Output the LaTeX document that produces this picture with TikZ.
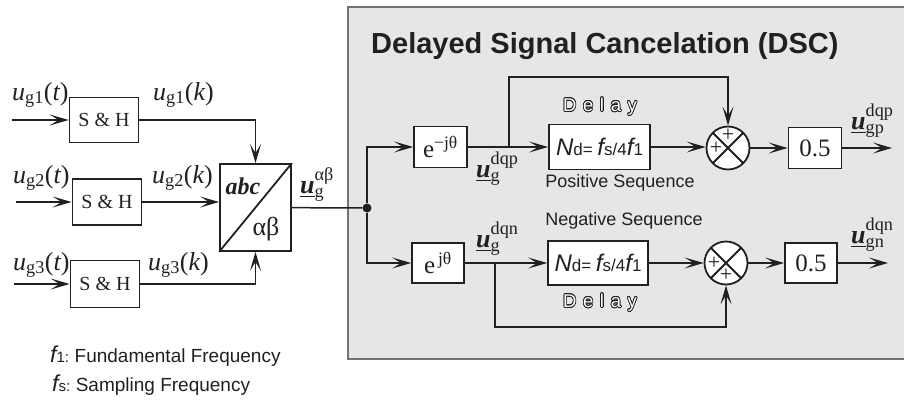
\documentclass[tikz,border=0pt]{standalone}
\usepackage{amsmath}
\usepackage{fontspec}
\setmainfont{Liberation Serif}
\setsansfont{Liberation Sans}
\usepackage{contour}
\usetikzlibrary{arrows.meta,positioning,calc}
\definecolor{InkD}  {RGB}{35, 31, 32}
\definecolor{PanelG}{RGB}{230,230,230}
\definecolor{EdgeG} {RGB}{115,115,115}
\newfontfamily\spacedsans[LetterSpace=36]{Liberation Sans}
\contourlength{0.75pt}
\newcommand{\sz}[1]{\fontsize{#1}{#1}\selectfont}
% sampled input / output signals
\newcommand{\usig}[2]{$\text{\itshape u}_{\text{g#1}}\text{(\itshape #2\upshape)}$}
% space vectors
\newcommand{\uvec}[2]{$\underline{\text{\bfseries\itshape u}}_{\text{#1}}^{\text{#2}}$}
\newcommand{\ndelay}{{\sz{24}\itshape N}{\sz{17}d= }{\sz{24}\itshape f}{\sz{17}s/4}{\sz{24}\itshape f}{\sz{17}1}}
\newcommand{\delaytxt}{\contour{InkD}{\textcolor{white}{\spacedsans\sz{18.5}Delay}}}

\begin{document}
\begin{tikzpicture}[x=1pt,y=1pt,
    >={Stealth[length=19pt,width=11pt,inset=9pt]},
    blk/.style={draw=InkD,line width=1.8pt,fill=white,inner sep=0pt,text=InkD},
    sig/.style={draw=InkD,line width=1.5pt,->},
    wire/.style={draw=InkD,line width=1.5pt},
    sumnode/.style={circle,draw=InkD,line width=1.8pt,fill=white,minimum size=43pt,inner sep=0pt,
      path picture={\draw[InkD,line width=1.8pt]
        (path picture bounding box.north west) -- (path picture bounding box.south east)
        (path picture bounding box.north east) -- (path picture bounding box.south west);}},
    lab/.style={text=InkD,inner sep=0pt},
    plus/.style={text=InkD,inner sep=0pt,font=\sz{22}}]
  \useasboundingbox (0,0) rectangle (904,-399);

  % DSC panel
  \fill[PanelG] (348,-7) rectangle (904,-359);
  \draw[EdgeG,line width=1.2pt] (904,-7) -- (348,-7) -- (348,-359) -- (904,-359);
  \node[lab,anchor=base west,font=\sffamily\bfseries\sz{29}] (title) at (371,-53)
    {Delayed Signal Cancelation (DSC)};

  % sample & hold stage
  \node[blk,minimum width=69pt,minimum height=45pt,font=\sz{20}] (sh1) at (104,-120) {S \& H};
  \node[blk,minimum width=69pt,minimum height=46pt,font=\sz{20}] (sh2) at (107,-202) {S \& H};
  \node[blk,minimum width=69pt,minimum height=47pt,font=\sz{20}] (sh3) at (105,-284) {S \& H};
  \coordinate (in1) at (12,-120);
  \coordinate (in2) at (16,-202);
  \coordinate (in3) at (14,-284);
  \foreach \i in {1,2,3}{
    \draw[sig] (in\i) -- (sh\i);}
  \node[lab,anchor=base west,font=\sz{26}] at (12,-100) {\usig{1}{t}};
  \node[lab,anchor=base west,font=\sz{26}] at (13,-183) {\usig{2}{t}};
  \node[lab,anchor=base west,font=\sz{26}] at (13,-270) {\usig{3}{t}};
  \node[lab,anchor=base west,font=\sz{26}] at (153,-100) {\usig{1}{k}};
  \node[lab,anchor=base west,font=\sz{26}] at (152,-183) {\usig{2}{k}};
  \node[lab,anchor=base west,font=\sz{26}] at (148,-270) {\usig{3}{k}};

  % abc -> alpha beta
  \node[blk,minimum width=71pt,minimum height=87pt] (abc) at (255.5,-207.5) {};
  \draw[InkD,line width=1.8pt] (abc.south west) -- (abc.north east);
  \node[lab,font=\sz{24}\bfseries\itshape] at (243,-186) {abc};
  \node[lab,font=\sz{26}] at (266,-229) {αβ};
  \draw[sig] (sh1) -| (abc);
  \draw[sig] (sh2) -- (sh2 -| abc.west);
  \draw[sig] (sh3) -| (abc);
  \node[circle,fill=InkD,inner sep=0pt,minimum size=9pt] (jn) at (367,-208) {};
  \draw[wire] (abc) -- (jn);
  \node[lab,anchor=base west,font=\sz{26}] at (300,-193) {\uvec{g}{αβ}};

  % positive sequence path
  \node[blk,minimum width=53pt,minimum height=41pt,font=\sz{25}] (em) at (440.5,-147) {$\text{e}^{\text{−jθ}}$};
  \node[blk,minimum width=101pt,minimum height=45pt,font=\sffamily] (dl1) at (599.5,-147) {\ndelay};
  \node[sumnode] (sum1) at (728,-148) {};
  \node[blk,minimum width=53pt,minimum height=41pt,font=\sz{25}] (half1) at (815,-148) {0.5};
  \coordinate (b1) at (509,-147);
  \coordinate (o1) at (892,-148);
  \draw[sig] (jn) |- (em);
  \draw[sig] (em) -- (dl1);
  \draw[sig] (b1) -- ++(0,70) -| (sum1);
  \draw[sig] (dl1) -- (dl1 -| sum1.west);
  \draw[sig] (sum1) -- (half1);
  \draw[sig] (half1) -- (o1);
  \node[plus] at ([yshift=13pt]sum1.center) {+};
  \node[plus] at ([xshift=-12pt]sum1.center) {+};
  \node[lab] at (600,-107) {\delaytxt};
  \node[lab,font=\sffamily\sz{18}] at (620,-183) {Positive Sequence};
  \node[lab,anchor=base west,font=\sz{26}] at (476,-177) {\uvec{g}{dqp}};
  \node[lab,anchor=base west,font=\sz{26}] at (851,-129) {\uvec{gp}{dqp}};

  % negative sequence path
  \node[blk,minimum width=52pt,minimum height=40pt,font=\sz{25}] (ep) at (438,-263) {$\text{e}^{\,\text{jθ}}$};
  \node[blk,minimum width=100pt,minimum height=44pt,font=\sffamily] (dl2) at (598,-263) {\ndelay};
  \node[sumnode] (sum2) at (726,-263) {};
  \node[blk,minimum width=52pt,minimum height=40pt,font=\sz{25}] (half2) at (811,-263) {0.5};
  \coordinate (b2) at (495,-263);
  \coordinate (o2) at (888,-263);
  \draw[sig] (jn) |- (ep);
  \draw[sig] (ep) -- (dl2);
  \draw[sig] (b2) -- ++(0,-64) -| (sum2);
  \draw[sig] (dl2) -- (sum2);
  \draw[sig] (sum2) -- (half2);
  \draw[sig] (half2) -- (o2);
  \node[plus] at ([xshift=-12pt]sum2.center) {+};
  \node[plus] at ([yshift=-12pt]sum2.center) {+};
  \node[lab] at (600,-303) {\delaytxt};
  \node[lab,font=\sffamily\sz{18}] at (624,-221) {Negative Sequence};
  \node[lab,anchor=base west,font=\sz{26}] at (476,-247) {\uvec{g}{dqn}};
  \node[lab,anchor=base west,font=\sz{26}] at (851,-243) {\uvec{gn}{dqn}};

  % legend
  \node[lab,anchor=base west,font=\sffamily] at (50,-362)
    {{\sz{23}\itshape f}{\sz{15}1: }{\sz{19}Fundamental Frequency}};
  \node[lab,anchor=base west,font=\sffamily] at (52,-391)
    {{\sz{23}\itshape f}{\sz{15}s: }{\sz{19}Sampling Frequency}};
\end{tikzpicture}
\end{document}
